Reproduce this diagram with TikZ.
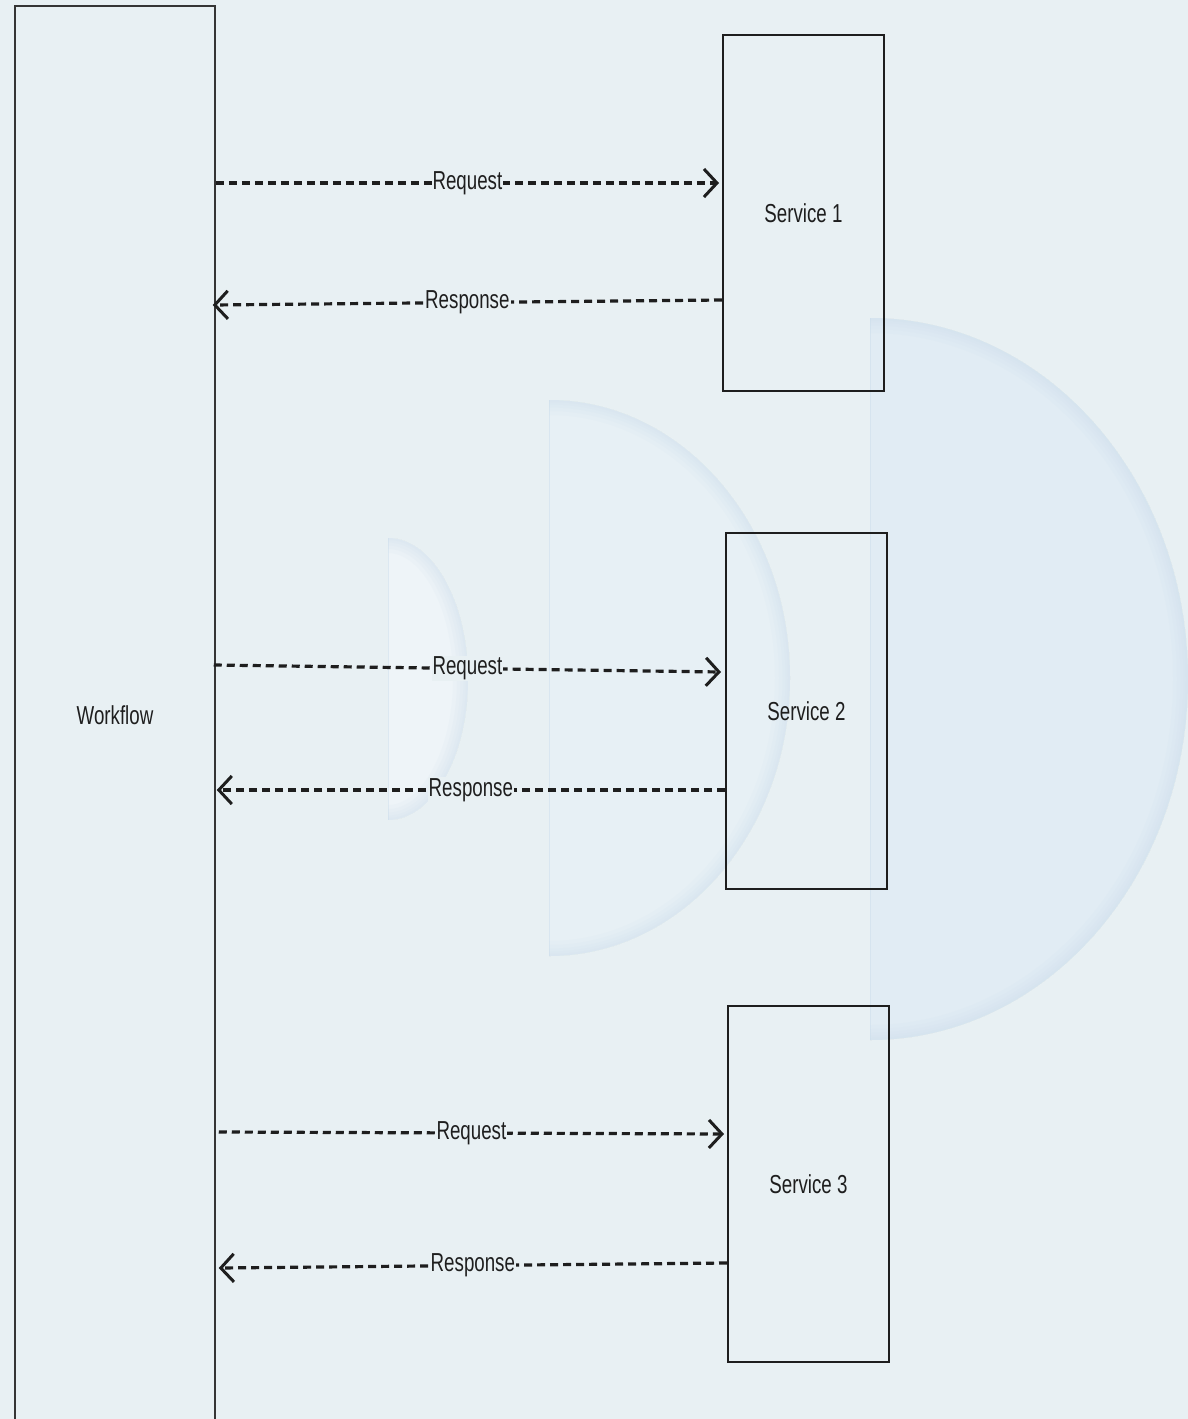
\documentclass[tikz,border=0pt]{standalone}
\usepackage{fontspec}
\setmainfont{Liberation Sans}[FakeStretch=0.72]
\usepackage{xcolor}
\usepackage{tikz}
\usetikzlibrary{arrows.meta,positioning}
\definecolor{CanvasBg}{HTML}{E8F0F3}
\definecolor{InkDark}{HTML}{1E1E1E}
\definecolor{BubbleBlue}{HTML}{E1ECF4}
\definecolor{BubbleMid}{HTML}{E7F0F5}
\definecolor{BubbleLight}{HTML}{EEF4F8}
\definecolor{BubbleRim}{HTML}{CCDEEC}
\tikzset{
  box/.style={draw=InkDark, line width=2pt, minimum width=161pt,
              minimum height=356pt, text=InkDark, font=\fontsize{26}{30}\selectfont},
  lane/.style={box, draw=InkDark!90, line width=1.5pt, minimum width=200pt,
               minimum height=1418pt},
  call/.style={-{Straight Barb[length=13pt,width=28pt,line width=3pt]}, line width=3.2pt,
               dash pattern=on 8pt off 5pt, draw=InkDark},
  tag/.style={fill=CanvasBg, inner sep=1pt, text=InkDark,
              font=\fontsize{26}{30}\selectfont}
}
% right half of an ellipse, given its top point, radii, fill and rim colours
\newcommand{\halfbubble}[5]{%
  \begin{scope}
    \clip #1 arc[start angle=-90, end angle=90, x radius=#2, y radius=#3] -- cycle;
    \fill[#4] #1 arc[start angle=-90, end angle=90, x radius=#2, y radius=#3] -- cycle;
    \foreach \w in {30,22,15,9,4}
      \draw[#5, line width=\w pt, opacity=.11] #1 arc[start angle=-90, end angle=90, x radius=#2, y radius=#3];
    \draw[#5, line width=1pt, opacity=.5] #1 -- ++(0,2*#3);
  \end{scope}}

\begin{document}
\begin{tikzpicture}[x=1pt, y=-1pt]
  \fill[CanvasBg] (0,0) rectangle (1188,1419);
  \useasboundingbox (0,0) rectangle (1188,1419);
  % soft bubbles behind the diagram
  \halfbubble{(870,318)}{318}{361}{BubbleBlue}{BubbleRim}
  \halfbubble{(549,400)}{241}{278}{BubbleMid}{BubbleRim}
  \halfbubble{(388,538)}{80}{141}{BubbleLight}{BubbleRim}

  \node[lane] (wf) at (115,715) {Workflow};
  \node[box] (s1) at (803.5,213) {Service 1};
  \node[box] (s2) at (806.5,711) {Service 2};
  \node[box] (s3) at (808.5,1184) {Service 3};

  \draw[call] (wf.east |- 0,183) -- ([xshift=-3pt]s1.west |- 0,183) node[tag, midway] {Request};
  \draw[call] (s1.west |- 0,300) -- ([xshift=-3pt]wf.east |- 0,305) node[tag, midway] {Response};
  \draw[call] ([xshift=-2pt]wf.east |- 0,665) -- ([xshift=-4pt]s2.west |- 0,672) node[tag, midway] {Request};
  \draw[call] (s2.west |- 0,790) -- ([xshift=1pt]wf.east |- 0,790) node[tag, midway] {Response};
  \draw[call] ([xshift=3pt]wf.east |- 0,1132) -- ([xshift=-3pt]s3.west |- 0,1134) node[tag, midway] {Request};
  \draw[call] (s3.west |- 0,1263) -- ([xshift=3pt]wf.east |- 0,1268) node[tag, midway] {Response};
\end{tikzpicture}
\end{document}
